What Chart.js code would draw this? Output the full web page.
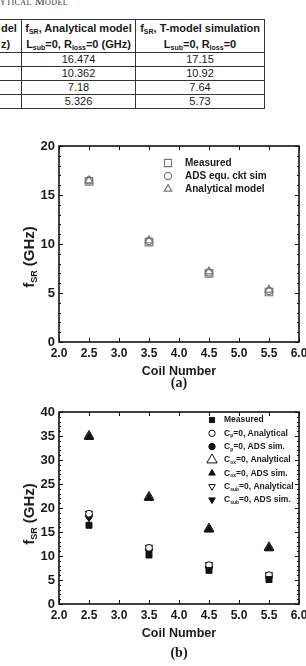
<!DOCTYPE html>
<html><head><meta charset="utf-8">
<script src="https://cdn.jsdelivr.net/npm/chart.js@4.4.1/dist/chart.umd.min.js"></script>
<style>
html,body{margin:0;padding:0;background:#fff;}
body{width:306px;height:666px;position:relative;overflow:hidden;font-family:Arial,"Liberation Sans",sans-serif;color:#1a1a1a;}
#cap{position:absolute;left:0;top:-4px;font-family:"Liberation Serif","Times New Roman",serif;font-size:11px;line-height:11px;font-variant:small-caps;letter-spacing:0.4px;color:#333;white-space:nowrap;}
table{position:absolute;left:-1px;top:19px;border-collapse:collapse;table-layout:fixed;width:265px;font-size:11px;color:#1a1a1a;}
td{border:1px solid #333;padding:0;text-align:center;height:13px;line-height:13px;white-space:nowrap;overflow:hidden;}
td.h{font-weight:bold;height:32px;line-height:16px;vertical-align:middle;}
td.c1{text-align:left;padding-left:1px;}
sub{font-size:7px;line-height:0;vertical-align:-2px;}
canvas{position:absolute;left:0;}
.lab{position:absolute;width:240px;left:59px;text-align:center;font-family:"Liberation Serif","Times New Roman",serif;font-weight:bold;font-size:14px;line-height:14px;color:#1a1a1a;}
</style></head>
<body>
<div id="cap">ytical Model</div>
<table>
<colgroup><col style="width:22px"><col style="width:114px"><col style="width:129px"></colgroup>
<tr><td class="h c1">del<br>z)</td><td class="h">f<sub>SR</sub>, Analytical model<br>L<sub>sub</sub>=0, R<sub>loss</sub>=0 (GHz)</td><td class="h">f<sub>SR</sub>, T-model simulation<br>L<sub>sub</sub>=0, R<sub>loss</sub>=0</td></tr>
<tr><td></td><td id="r0a"></td><td id="r0b"></td></tr>
<tr><td></td><td id="r1a"></td><td id="r1b"></td></tr>
<tr><td></td><td id="r2a"></td><td id="r2b"></td></tr>
<tr><td></td><td id="r3a"></td><td id="r3b"></td></tr>
</table>
<canvas id="ca" width="306" height="283" style="top:112px"></canvas>
<canvas id="cb" width="306" height="271" style="top:395px"></canvas>
<div class="lab" style="top:376px">(a)</div>
<div class="lab" style="top:646px">(b)</div>
<script>
// ---- data ----
const tableAnalytical = ["16.474", "10.362", "7.18", "5.326"];
const tableTModel = ["17.15", "10.92", "7.64", "5.73"];

const coilNumbers = [2.5, 3.5, 4.5, 5.5];
const xTicks = [2.0, 2.5, 3.0, 3.5, 4.0, 4.5, 5.0, 5.5, 6.0];
const yTicksA = [0, 5, 10, 15, 20];
const yTicksB = [0, 5, 10, 15, 20, 25, 30, 35, 40];

// chart (a)
const measuredA = [16.4, 10.2, 7.0, 5.1];
const adsA = [16.5, 10.3, 7.1, 5.2];
const analyticalA = [16.474, 10.362, 7.18, 5.326];

// chart (b)
const measuredB = [16.4, 10.2, 7.0, 5.1];
const cpAnalytical = [18.8, 11.7, 8.1, 6.0];
const cpAds = [18.4, 11.3, 7.7, 5.7];
const coxAnalytical = [35.0, 22.3, 15.7, 11.8];
const coxAds = [34.8, 22.1, 15.5, 11.6];
const csubAnalytical = [18.9, 11.8, 8.2, 6.1];
const csubAds = [18.0, 11.0, 7.4, 5.5];

tableAnalytical.forEach((v,i)=>{document.getElementById('r'+i+'a').textContent=v;});
tableTModel.forEach((v,i)=>{document.getElementById('r'+i+'b').textContent=v;});

const pts = ys => coilNumbers.map((x,i)=>({x:x,y:ys[i]}));

function drawRich(ctx, parts, x, y, size, align){
  const main = 'bold '+size+'px Arial, "Liberation Sans", sans-serif';
  const sub = 'bold '+Math.round(size*0.62)+'px Arial, "Liberation Sans", sans-serif';
  let w = 0;
  parts.forEach(p=>{ctx.font = p[1]?sub:main; w += ctx.measureText(p[0]).width;});
  let cx = align==='center' ? x - w/2 : x;
  ctx.textBaseline = 'middle'; ctx.textAlign='left';
  parts.forEach(p=>{
    ctx.font = p[1]?sub:main;
    ctx.fillText(p[0], cx, p[1] ? y + size*0.33 : y);
    cx += ctx.measureText(p[0]).width;
  });
}

const framePlugin = {
  id:'frame',
  beforeDatasetsDraw(chart, args, o){
    const {ctx, chartArea:a, scales:{x,y}} = chart;
    ctx.save();
    ctx.strokeStyle='#111'; ctx.lineWidth=1;
    ctx.beginPath();
    o.xTicks.forEach(v=>{
      const px = Math.round(x.getPixelForValue(v))+0.5;
      ctx.moveTo(px,a.bottom); ctx.lineTo(px,a.bottom-4);
      ctx.moveTo(px,a.top); ctx.lineTo(px,a.top+4);
    });
    const yMax = o.yTicks[o.yTicks.length-1];
    for(let v=0; v<=yMax; v+=o.yMinor){
      const py = Math.round(y.getPixelForValue(v))+0.5;
      const len = (v % o.yTicks[1] === 0) ? 4 : 2;
      ctx.moveTo(a.left,py); ctx.lineTo(a.left+len,py);
      ctx.moveTo(a.right,py); ctx.lineTo(a.right-len,py);
    }
    ctx.stroke();
    ctx.lineWidth=1.6;
    ctx.strokeRect(a.left, a.top, a.right-a.left, a.bottom-a.top);
    ctx.restore();
  },
  afterDraw(chart, args, o){
    const ctx = chart.ctx;
    ctx.save();
    ctx.fillStyle='#1a1a1a';
    ctx.translate(o.titleX, o.titleY);
    ctx.rotate(-Math.PI/2);
    drawRich(ctx, [['f',0],['SR',1],[' (GHz)',0]], 0, 0, 15, 'center');
    ctx.restore();
    ctx.save();
    chart.data.datasets.forEach((d,i)=>{
      const yy = o.legY + i*o.legStep;
      ctx.fillStyle = d.backgroundColor; ctx.strokeStyle = d.borderColor; ctx.lineWidth = d.borderWidth;
      Chart.helpers.drawPoint(ctx, {pointStyle:d.pointStyle, rotation:d.rotation||0, radius:d.legendRadius||d.pointRadius, borderWidth:d.borderWidth}, o.legMarkX, yy);
      ctx.fillStyle = '#1a1a1a';
      drawRich(ctx, d.rich, o.legTextX, yy, o.legSize, 'left');
    });
    ctx.restore();
  }
};

function axisCfg(ticksArr, isX){
  const c = {
    type:'linear', min:ticksArr[0], max:ticksArr[ticksArr.length-1],
    afterBuildTicks: s => { s.ticks = ticksArr.map(v=>({value:v})); },
    ticks:{padding:4, autoSkip:false, maxRotation:0, color:'#1a1a1a',
      font:{family:'Arial, "Liberation Sans", sans-serif', weight:'bold', size: isX ? 12 : 13},
      callback: v => isX ? Number(v).toFixed(1) : String(v)},
    grid:{display:false, drawTicks:false}, border:{display:false}
  };
  if(isX){
    c.title = {display:true, text:'Coil Number', color:'#1a1a1a', padding:{top:0,bottom:3},
      font:{family:'Arial, "Liberation Sans", sans-serif', weight:'bold', size:12.5}};
    c.afterFit = s => { s.height = 40; s.paddingLeft = 0; s.paddingRight = 0; };
  } else {
    c.afterFit = s => { s.width = 59; s.paddingTop = 0; s.paddingBottom = 0; };
  }
  return c;
}

function makeChart(id, datasets, yTicks, padding, frameOpts){
  return new Chart(document.getElementById(id), {
    type:'scatter',
    data:{datasets:datasets},
    options:{
      responsive:false, animation:false, devicePixelRatio:1,
      layout:{padding:padding},
      plugins:{legend:{display:false}, tooltip:{enabled:false}, frame:frameOpts},
      scales:{x:axisCfg(xTicks,true), y:axisCfg(yTicks,false)}
    },
    plugins:[framePlugin]
  });
}

const grayOpen = {backgroundColor:'rgba(0,0,0,0)', borderColor:'#7a7a7a', borderWidth:1.2};
makeChart('ca', [
  Object.assign({data:pts(measuredA), pointStyle:'rect', pointRadius:5.3, legendRadius:5, rich:[['Measured',0]]}, grayOpen),
  Object.assign({data:pts(adsA), pointStyle:'circle', pointRadius:3.6, legendRadius:3.6, rich:[['ADS equ. ckt sim',0]]}, grayOpen),
  Object.assign({data:pts(analyticalA), pointStyle:'triangle', pointRadius:4.6, legendRadius:4.4, rich:[['Analytical model',0]]}, grayOpen)
], yTicksA, {left:0,right:7,top:34,bottom:13},
{xTicks:xTicks, yTicks:yTicksA, yMinor:1, titleX:30, titleY:145, legY:51, legStep:13, legMarkX:168, legTextX:185, legSize:10});

const blk = '#111';
makeChart('cb', [
  {data:pts(measuredB), pointStyle:'rect', pointRadius:4.2, legendRadius:3.6, backgroundColor:blk, borderColor:blk, borderWidth:1, rich:[['Measured',0]]},
  {data:pts(cpAnalytical), pointStyle:'circle', pointRadius:3.4, legendRadius:3.2, backgroundColor:'#fff', borderColor:blk, borderWidth:1, rich:[['C',0],['p',1],['=0, Analytical',0]]},
  {data:pts(cpAds), pointStyle:'circle', pointRadius:3.4, legendRadius:3.2, backgroundColor:blk, borderColor:blk, borderWidth:1, rich:[['C',0],['p',1],['=0, ADS sim.',0]]},
  {data:pts(coxAnalytical), pointStyle:'triangle', pointRadius:5.6, legendRadius:6, backgroundColor:'rgba(0,0,0,0)', borderColor:blk, borderWidth:1, rich:[['C',0],['ox',1],['=0, Analytical',0]]},
  {data:pts(coxAds), pointStyle:'triangle', pointRadius:5, legendRadius:3.8, backgroundColor:blk, borderColor:blk, borderWidth:1, rich:[['C',0],['ox',1],['=0, ADS sim.',0]]},
  {data:pts(csubAnalytical), pointStyle:'triangle', rotation:180, pointRadius:4.2, legendRadius:3.8, backgroundColor:'#fff', borderColor:blk, borderWidth:1, rich:[['C',0],['sub',1],['=0, Analytical',0]]},
  {data:pts(csubAds), pointStyle:'triangle', rotation:180, pointRadius:4.2, legendRadius:3.8, backgroundColor:blk, borderColor:blk, borderWidth:1, rich:[['C',0],['sub',1],['=0, ADS sim.',0]]}
], yTicksB, {left:0,right:7,top:17,bottom:22},
{xTicks:xTicks, yTicks:yTicksB, yMinor:1, titleX:30, titleY:119, legY:25, legStep:13.3, legMarkX:212, legTextX:224, legSize:8.5});
</script>
</body></html>
